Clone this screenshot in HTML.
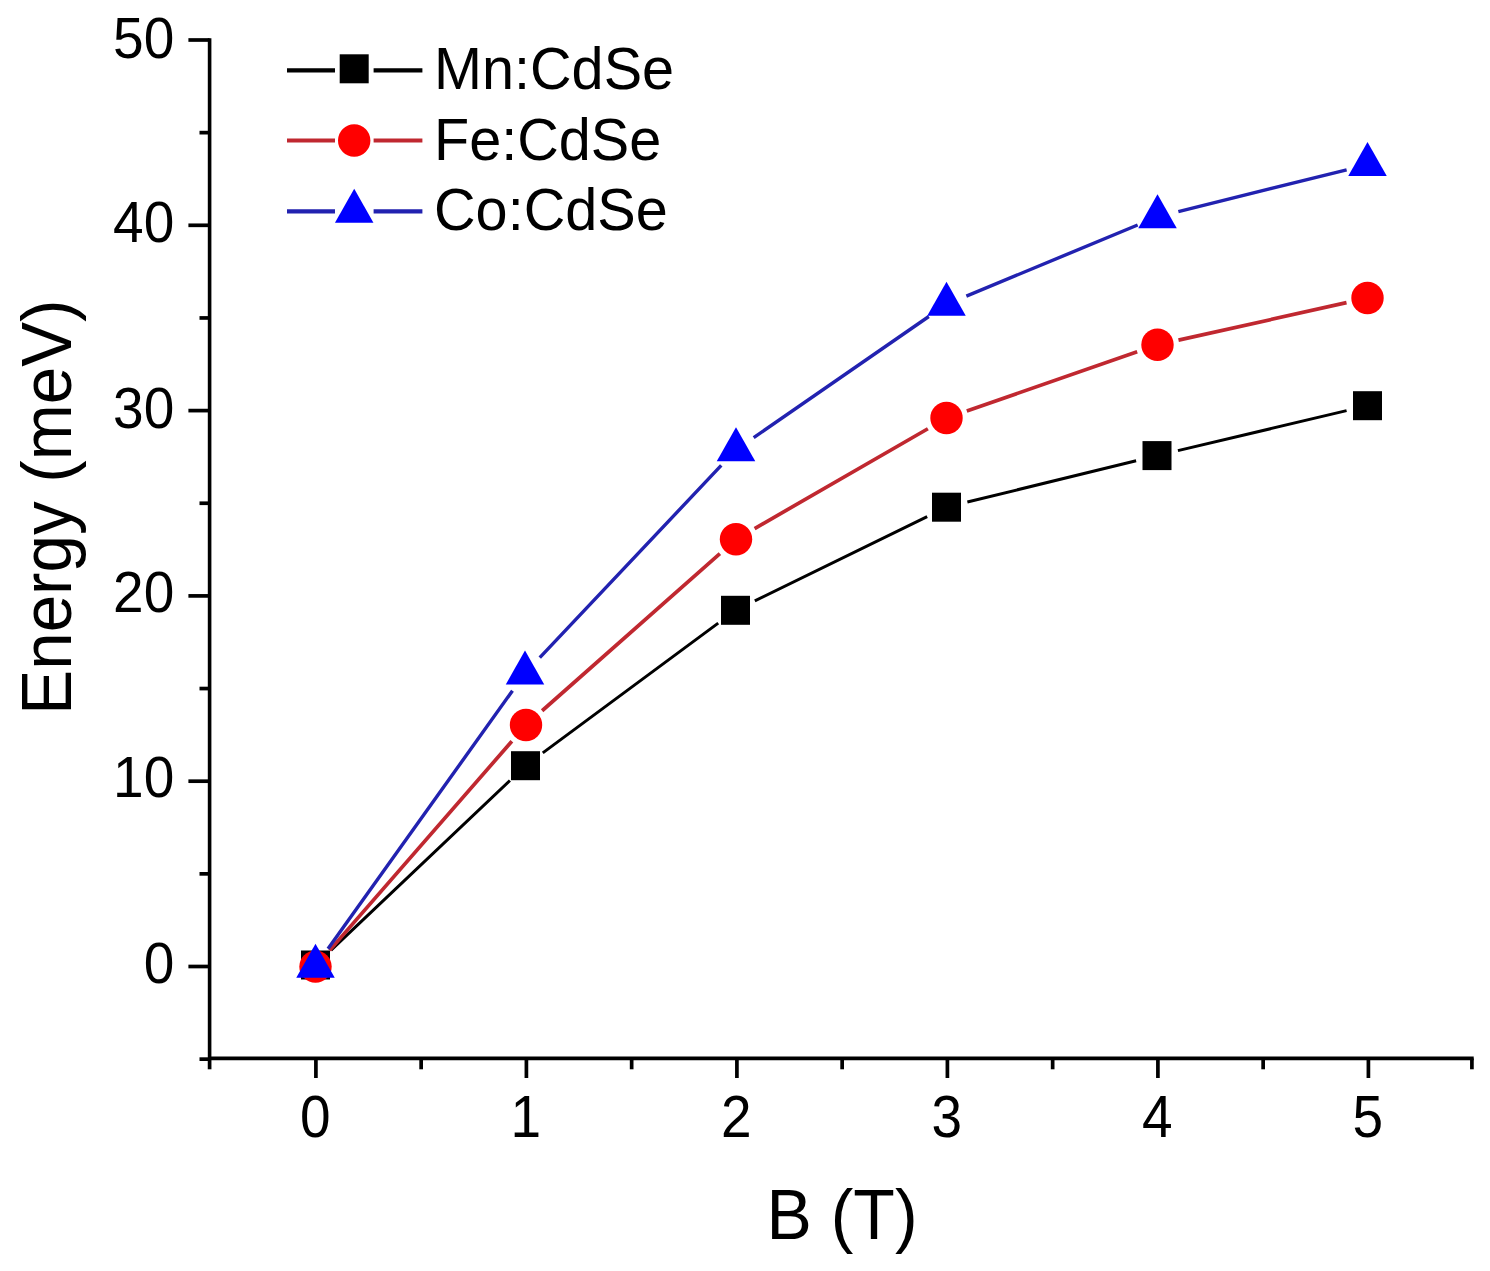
<!DOCTYPE html><html><head><meta charset="utf-8"><style>html,body{margin:0;padding:0;background:#fff;}svg{display:block;}text{font-family:"Liberation Sans",sans-serif;}</style></head><body>
<svg width="1490" height="1271" viewBox="0 0 1490 1271">
<rect width="1490" height="1271" fill="#fff"/>
<g stroke="#000" stroke-width="3.6" fill="none" stroke-linecap="square">
<path d="M209.60,40.00 V1058.40 H1471.90"/>
</g>
<g stroke="#000" stroke-width="3.7" fill="none">
<path d="M188.4,966.50 H209.60"/>
<path d="M188.4,781.20 H209.60"/>
<path d="M188.4,595.90 H209.60"/>
<path d="M188.4,410.60 H209.60"/>
<path d="M188.4,225.30 H209.60"/>
<path d="M188.4,40.00 H209.60"/>
<path d="M199.5,1059.15 H209.60"/>
<path d="M199.5,873.85 H209.60"/>
<path d="M199.5,688.55 H209.60"/>
<path d="M199.5,503.25 H209.60"/>
<path d="M199.5,317.95 H209.60"/>
<path d="M199.5,132.65 H209.60"/>
<path d="M315.90,1058.40 V1078"/>
<path d="M526.40,1058.40 V1078"/>
<path d="M736.90,1058.40 V1078"/>
<path d="M947.40,1058.40 V1078"/>
<path d="M1157.90,1058.40 V1078"/>
<path d="M1368.40,1058.40 V1078"/>
<path d="M209.60,1058.40 V1069.3"/>
<path d="M421.15,1058.40 V1069.3"/>
<path d="M631.65,1058.40 V1069.3"/>
<path d="M842.15,1058.40 V1069.3"/>
<path d="M1052.65,1058.40 V1069.3"/>
<path d="M1263.15,1058.40 V1069.3"/>
<path d="M1471.90,1058.40 V1069.3"/>
</g>
<g fill="#000">
<text transform="translate(174.30,982.60) scale(1,1.045)" font-size="55" text-anchor="end">0</text>
<text transform="translate(174.30,796.80) scale(1,1.045)" font-size="55" text-anchor="end">10</text>
<text transform="translate(174.30,611.50) scale(1,1.045)" font-size="55" text-anchor="end">20</text>
<text transform="translate(174.30,427.60) scale(1,1.045)" font-size="55" text-anchor="end">30</text>
<text transform="translate(174.30,241.90) scale(1,1.045)" font-size="55" text-anchor="end">40</text>
<text transform="translate(174.30,57.60) scale(1,1.045)" font-size="55" text-anchor="end">50</text>
<text transform="translate(315.30,1136.60) scale(1,1.09)" font-size="55" text-anchor="middle">0</text>
<text transform="translate(525.80,1136.60) scale(1,1.09)" font-size="55" text-anchor="middle">1</text>
<text transform="translate(736.30,1136.60) scale(1,1.09)" font-size="55" text-anchor="middle">2</text>
<text transform="translate(946.80,1136.60) scale(1,1.09)" font-size="55" text-anchor="middle">3</text>
<text transform="translate(1157.30,1136.60) scale(1,1.09)" font-size="55" text-anchor="middle">4</text>
<text transform="translate(1367.80,1136.60) scale(1,1.09)" font-size="55" text-anchor="middle">5</text>
<text transform="translate(842.00,1238.60) scale(1,1.035)" font-size="68" text-anchor="middle">B (T)</text>
<text transform="translate(70.80,507.10) rotate(-90) scale(1,1.035)" font-size="67.32" text-anchor="middle">Energy (meV)</text>
</g>
<path d="M331.09,950.20 L509.91,780.50 M542.78,752.91 L718.22,623.09 M754.82,600.86 L927.18,516.64 M967.38,502.08 L1136.12,460.72 M1177.92,450.64 L1346.58,410.66" stroke="#000" stroke-width="3.0" fill="none"/>
<rect x="301.00" y="950.50" width="29" height="29" fill="#000"/>
<rect x="511.00" y="751.20" width="29" height="29" fill="#000"/>
<rect x="721.00" y="595.80" width="29" height="29" fill="#000"/>
<rect x="932.00" y="492.70" width="29" height="29" fill="#000"/>
<rect x="1142.50" y="441.10" width="29" height="29" fill="#000"/>
<rect x="1353.00" y="391.20" width="29" height="29" fill="#000"/>
<path d="M329.62,950.39 L511.88,741.21 M542.11,710.76 L719.89,553.54 M754.63,528.57 L927.87,428.73 M966.81,410.95 L1137.19,351.85 M1178.49,340.12 L1346.51,302.68" stroke="#c02830" stroke-width="3.7" fill="none"/>
<circle cx="315.50" cy="966.60" r="16.2" fill="#ff0000"/>
<circle cx="526.00" cy="725.00" r="16.2" fill="#ff0000"/>
<circle cx="736.00" cy="539.30" r="16.2" fill="#ff0000"/>
<circle cx="946.50" cy="418.00" r="16.2" fill="#ff0000"/>
<circle cx="1157.50" cy="344.80" r="16.2" fill="#ff0000"/>
<circle cx="1367.50" cy="298.00" r="16.2" fill="#ff0000"/>
<path d="M328.00,948.81 L512.50,690.69 M539.76,657.57 L721.24,465.43 M753.69,437.58 L928.81,316.52 M966.36,296.06 L1137.64,225.04 M1178.37,211.61 L1346.63,169.79" stroke="#2222b0" stroke-width="3.4" fill="none"/>
<path d="M315.50,943.63 L334.75,977.63 L296.25,977.63 Z" fill="#0000ff"/>
<path d="M525.00,650.53 L544.25,684.53 L505.75,684.53 Z" fill="#0000ff"/>
<path d="M736.00,427.13 L755.25,461.13 L716.75,461.13 Z" fill="#0000ff"/>
<path d="M946.50,281.63 L965.75,315.63 L927.25,315.63 Z" fill="#0000ff"/>
<path d="M1157.50,194.13 L1176.75,228.13 L1138.25,228.13 Z" fill="#0000ff"/>
<path d="M1367.50,141.93 L1386.75,175.93 L1348.25,175.93 Z" fill="#0000ff"/>
<path d="M287,70.3 H335 M373.6,70.3 H422.4" stroke="#000" stroke-width="4.2" fill="none"/>
<rect x="339.70" y="54.30" width="29" height="29" fill="#000"/>
<text transform="translate(434.00,88.90) scale(1,1.03)" font-size="57.6" text-anchor="start">Mn:CdSe</text>
<path d="M287,140.5 H335 M373.6,140.5 H422.4" stroke="#c02830" stroke-width="4.2" fill="none"/>
<circle cx="354.20" cy="140.50" r="16.2" fill="#ff0000"/>
<text transform="translate(434.00,159.60) scale(1,1.03)" font-size="57.6" text-anchor="start">Fe:CdSe</text>
<path d="M287,211.3 H335 M373.6,211.3 H422.4" stroke="#2222b0" stroke-width="4.2" fill="none"/>
<path d="M354.20,188.63 L373.45,222.63 L334.95,222.63 Z" fill="#0000ff"/>
<text transform="translate(434.00,230.10) scale(1,1.03)" font-size="57.6" text-anchor="start">Co:CdSe</text>
</svg></body></html>
